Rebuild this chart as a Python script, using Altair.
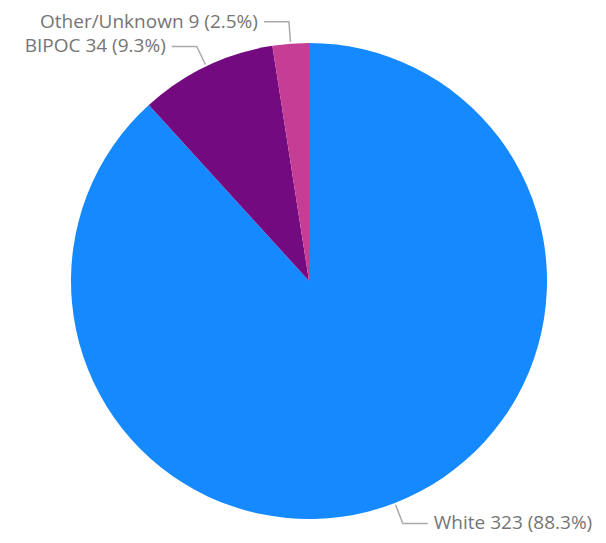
import math
import altair as alt
import pandas as pd

categories = ["White", "BIPOC", "Other/Unknown"]
counts = [323, 34, 9]
percents = ["88.3%", "9.3%", "2.5%"]
colors = ["#1589FF", "#740A80", "#C63D96"]

W, H = 590, 527
CX, CY = 301, 273
R = 238

total = sum(counts)
slices = pd.DataFrame({"cat": categories, "n": counts, "order": list(range(len(categories)))})

# leader lines & label anchors derived from the slice mid-angles
line_rows = []
label_rows = []
cum = 0
for cat, n, p in zip(categories, counts, percents):
    mid = (cum + n / 2) / total * 2 * math.pi
    cum += n
    sx, sy = CX + (R + 2) * math.sin(mid), CY - (R + 2) * math.cos(mid)
    ex, ey = CX + (R + 22) * math.sin(mid), CY - (R + 22) * math.cos(mid)
    side = 1 if math.sin(mid) > 0 else -1
    hx = ex + side * 25
    for i, (x, y) in enumerate([(sx, sy), (ex, ey), (hx, ey)]):
        line_rows.append({"cat": cat, "i": i, "x": x, "y": y})
    label_rows.append({"cat": cat, "x": hx + side * 6, "y": ey,
                       "label": f"{cat} {n} ({p})",
                       "align": "left" if side > 0 else "right"})

lines = pd.DataFrame(line_rows)
labels = pd.DataFrame(label_rows)

xs = alt.Scale(domain=[0, W], range=[0, W])
ys = alt.Scale(domain=[0, H], range=[0, H])

pie = alt.Chart(slices).mark_arc(outerRadius=R, stroke=None).encode(
    theta=alt.Theta("n:Q", stack=True),
    order=alt.Order("order:Q"),
    color=alt.Color("cat:N", scale=alt.Scale(domain=categories, range=colors), legend=None),
    x=alt.value(CX),
    y=alt.value(CY),
)

leader = alt.Chart(lines).mark_line(color="#AAAAAA", strokeWidth=1.5).encode(
    x=alt.X("x:Q", scale=xs, axis=None),
    y=alt.Y("y:Q", scale=ys, axis=None),
    detail="cat:N",
    order="i:Q",
)

font = "Open Sans"
txt_left = alt.Chart(labels[labels["align"] == "left"]).mark_text(
    align="left", baseline="middle", fontSize=19, font=font, color="#757575"
).encode(x=alt.X("x:Q", scale=xs, axis=None), y=alt.Y("y:Q", scale=ys, axis=None), text="label:N")
txt_right = alt.Chart(labels[labels["align"] == "right"]).mark_text(
    align="right", baseline="middle", fontSize=19, font=font, color="#757575"
).encode(x=alt.X("x:Q", scale=xs, axis=None), y=alt.Y("y:Q", scale=ys, axis=None), text="label:N")

chart = alt.layer(pie, leader, txt_left, txt_right).properties(
    width=W, height=H, padding=0, autosize="none"
).configure_view(stroke=None)

chart.save("out.html", embed_options={"renderer": "svg", "actions": False})
